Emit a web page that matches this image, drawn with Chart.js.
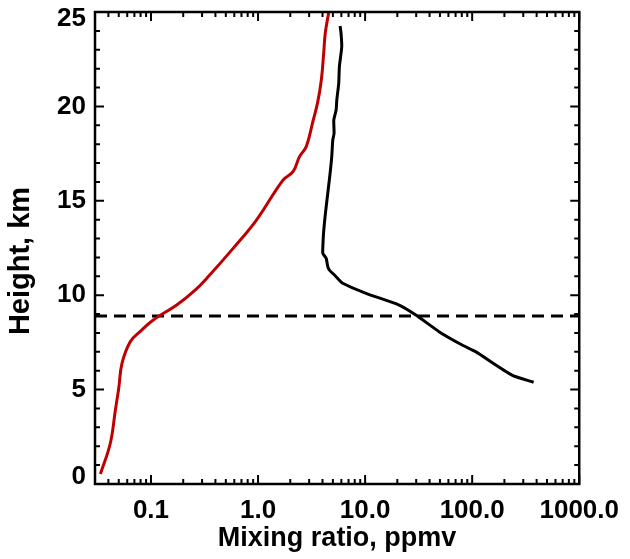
<!DOCTYPE html>
<html><head><meta charset="utf-8">
<script src="https://cdn.jsdelivr.net/npm/chart.js@4/dist/chart.umd.min.js"></script>
<style>html,body{margin:0;padding:0;background:#fff}canvas{display:block}</style>
</head><body>
<canvas id="c" width="630" height="559"></canvas>
<script>
// ---- data ----
const redMixing  = [0.0337, 0.0417, 0.0465, 0.050, 0.0536, 0.064, 0.079, 0.105, 0.174, 0.26, 0.345, 0.585, 0.966, 1.71, 2.12, 2.44, 2.82, 3.25, 3.60, 3.90, 4.10, 4.25, 4.58];
const redHeight  = [0.53,   2.16,   3.92,   5.07,  6.39,   7.54,  8.07,  8.69,  9.48,  10.28, 11.0, 12.48, 13.98, 16.10, 16.54, 17.34, 17.87, 19.20, 20.20, 21.40, 22.80, 23.90, 25.0];

const blackMixing = [5.84, 5.96, 6.05, 5.75, 5.67, 5.44, 5.36, 5.10, 5.13, 4.99, 4.88, 4.71, 4.48, 4.26, 4.09, 4.03, 4.03, 4.33, 4.48, 4.64, 5.28, 6.18, 10.2, 20.8, 29.8, 49.0, 80.7, 107.6, 235.6, 375];
const blackHeight = [24.26, 23.87, 23.16, 22.10, 21.22, 20.34, 19.81, 19.28, 18.58, 18.22, 17.34, 16.46, 15.40, 14.34, 13.28, 12.57, 12.22, 11.95, 11.51, 11.33, 11.02, 10.63, 10.10, 9.48, 8.95, 8.07, 7.36, 7.01, 5.77, 5.39];

const tropopauseHeight = 8.9;

const xRange = [0.03, 1000];
const yRange = [0, 25];
const xMajorTicks = [0.1, 1, 10, 100, 1000];
const xTickLabels = ['0.1', '1.0', '10.0', '100.0', '1000.0'];
const yMajorTicks = [0, 5, 10, 15, 20, 25];
const yTickLabels = ['0', '5', '10', '15', '20', '25'];
const xTitle = 'Mixing ratio, ppmv';
const yTitle = 'Height, km';

const FONT = '"Liberation Sans", Arial, Helvetica, sans-serif';

const toPoints = (xs, ys) => xs.map((v, i) => ({x: v, y: ys[i]}));

const framePlugin = {
  id: 'frame',
  afterDraw(chart) {
    const {ctx, chartArea: a, scales: {x, y}} = chart;
    ctx.save();
    ctx.strokeStyle = '#000';
    ctx.lineCap = 'butt';
    ctx.lineWidth = 2;
    ctx.beginPath();
    // x ticks (bottom & top, inward)
    for (let d = -2; d <= 3; d++) {
      for (let k = 1; k <= 9; k++) {
        const v = k * Math.pow(10, d);
        if (v < xRange[0] * 0.999 || v > xRange[1] * 1.001) continue;
        const px = x.getPixelForValue(v);
        const L = k === 1 ? 9 : 5;
        ctx.moveTo(px, a.bottom); ctx.lineTo(px, a.bottom - L);
        ctx.moveTo(px, a.top); ctx.lineTo(px, a.top + L);
      }
    }
    // y ticks (left & right, inward)
    for (let v = yRange[0]; v <= yRange[1]; v++) {
      const py = y.getPixelForValue(v);
      const L = v % 5 === 0 ? 9 : 5;
      ctx.moveTo(a.left, py); ctx.lineTo(a.left + L, py);
      ctx.moveTo(a.right, py); ctx.lineTo(a.right - L, py);
    }
    ctx.stroke();
    // frame
    ctx.lineWidth = 2.5;
    ctx.strokeRect(a.left, a.top, a.right - a.left, a.bottom - a.top);
    // y tick labels
    ctx.fillStyle = '#000';
    ctx.font = 'bold 26px ' + FONT;
    ctx.textAlign = 'right';
    ctx.textBaseline = 'middle';
    yMajorTicks.forEach((v, i) => {
      let py = y.getPixelForValue(v);
      py = Math.min(Math.max(py, a.top + 6.5), a.bottom - 7.5);
      ctx.fillText(yTickLabels[i], a.left - 9, py);
    });
    // y title
    ctx.save();
    ctx.translate(21, 261);
    ctx.rotate(-Math.PI / 2);
    ctx.textAlign = 'center';
    ctx.textBaseline = 'middle';
    ctx.font = 'bold 29px ' + FONT;
    ctx.fillText(yTitle, 0, 0);
    ctx.restore();
    ctx.restore();
  }
};

new Chart(document.getElementById('c'), {
  type: 'scatter',
  data: {
    datasets: [
      {
        label: 'red',
        data: toPoints(redMixing, redHeight),
        showLine: true, borderColor: '#c00000', borderWidth: 3,
        pointRadius: 0, tension: 0.4, fill: false
      },
      {
        label: 'black',
        data: toPoints(blackMixing, blackHeight),
        showLine: true, borderColor: '#000000', borderWidth: 3,
        pointRadius: 0, tension: 0.2, fill: false
      },
      {
        label: 'tropopause',
        data: toPoints(xRange, [tropopauseHeight, tropopauseHeight]),
        showLine: true, borderColor: '#000000', borderWidth: 3,
        borderDash: [12, 7], pointRadius: 0, fill: false
      }
    ]
  },
  options: {
    responsive: false,
    animation: false,
    devicePixelRatio: 1,
    layout: {padding: {left: 0, top: 12, right: 46, bottom: 0}},
    plugins: {legend: {display: false}, tooltip: {enabled: false}},
    scales: {
      x: {
        type: 'logarithmic',
        min: xRange[0], max: xRange[1],
        grid: {display: false, drawTicks: false},
        border: {display: false},
        afterBuildTicks: s => { s.ticks = xMajorTicks.map(v => ({value: v})); },
        afterFit: s => { s.height = 75; },
        ticks: {
          autoSkip: false, maxRotation: 0, padding: 11, color: '#000',
          font: {family: FONT, size: 26, weight: 'bold'},
          callback: v => { const i = xMajorTicks.findIndex(t => Math.abs(t - v) / t < 1e-6); return i >= 0 ? xTickLabels[i] : ''; }
        },
        title: {
          display: true, text: xTitle, color: '#000',
          font: {family: FONT, size: 27, weight: 'bold'},
          padding: {top: 0, bottom: 4}
        }
      },
      y: {
        type: 'linear',
        min: yRange[0], max: yRange[1],
        grid: {display: false, drawTicks: false},
        border: {display: false},
        ticks: {display: false},
        afterFit: s => { s.width = 95; }
      }
    }
  },
  plugins: [framePlugin]
});
</script>
</body></html>
